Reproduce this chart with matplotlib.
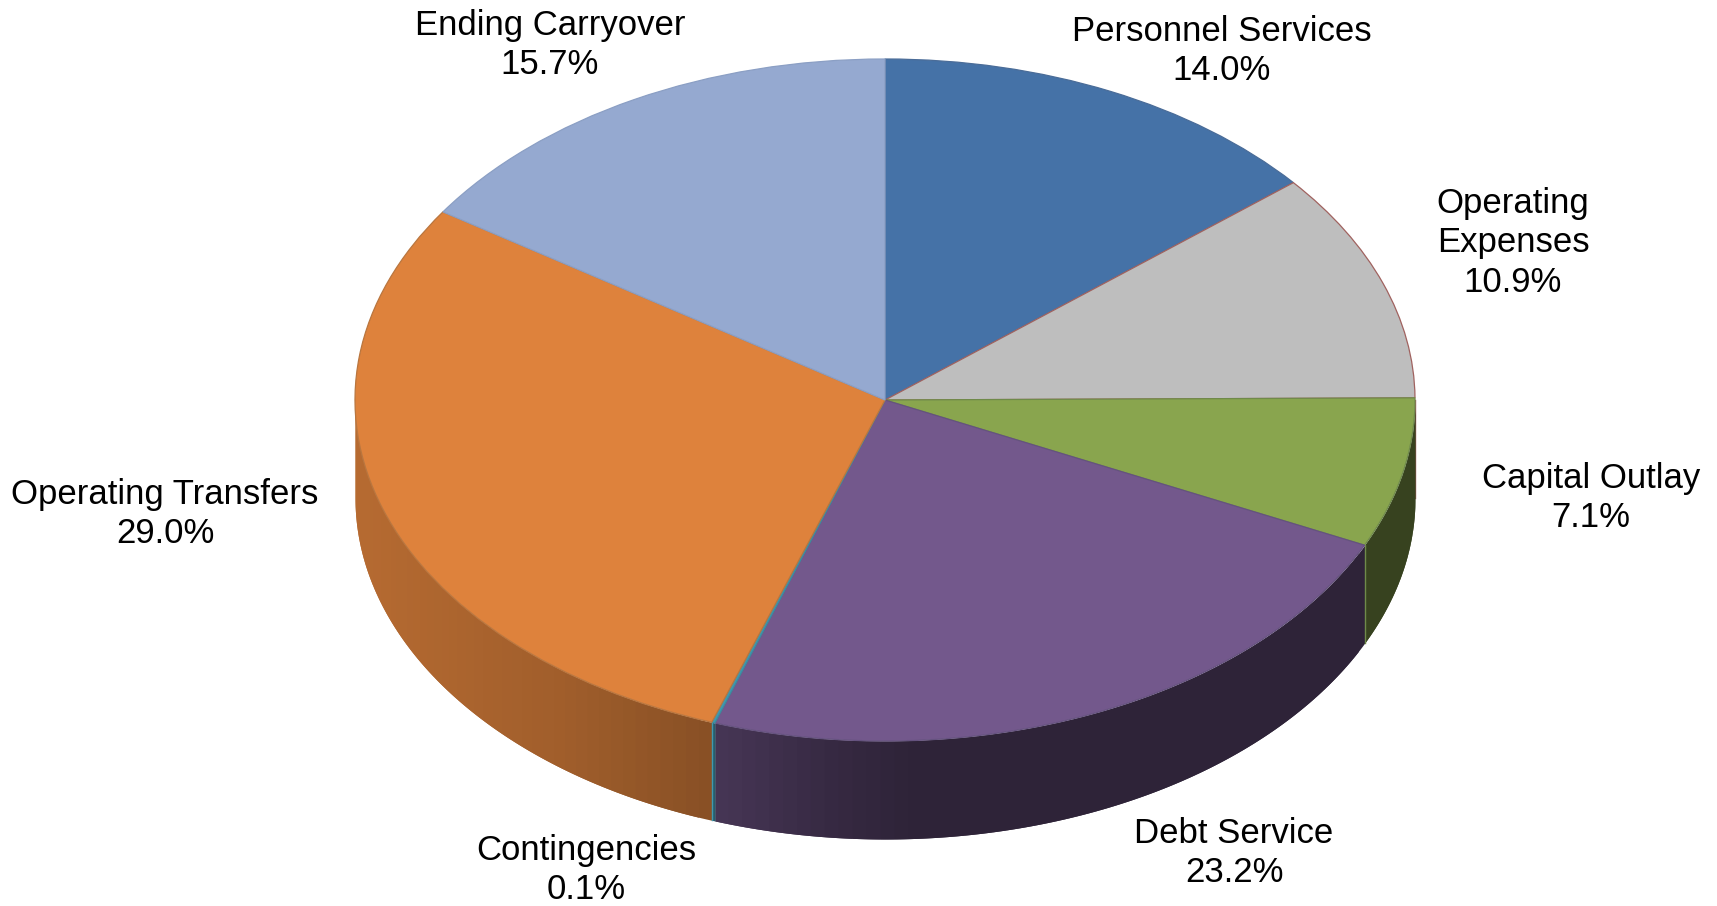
import numpy as np
import matplotlib
matplotlib.use('Agg')
import matplotlib.pyplot as plt

plt.rcParams['font.family'] = ['Liberation Sans', 'DejaVu Sans']

# slices, clockwise from 12 o'clock
categories = ['Personnel Services', 'Operating\nExpenses', 'Capital Outlay', 'Debt Service',
              'Contingencies', 'Operating Transfers', 'Ending Carryover']
values = [14.0, 10.9, 7.1, 23.2, 0.1, 29.0, 15.7]

colors = ['#4572A7', '#BEBEBE', '#89A54E', '#73588C', '#4198AF', '#DE823C', '#95A9D0']
edge_colors = ['#4A6C98', '#A0625F', '#6F8A4A', '#65527F', '#3C8CA0', '#B9763F', '#8B9FC4']

W, H = 1717, 906
cx, cy, rx, ry = 885, 400, 530, 341
depth = 98 / ry

# pixel centre of every label block
label_pos = [(1222, 51), (1513, 243), (1591, 498), (1234, 853),
             (586, 870), (165, 514), (550, 45)]

# how dark the side wall gets, left to right
shade_x = [-1.0, -0.6, -0.3, -0.1, 0.05, 1.0]
shade_f = [0.82, 0.72, 0.60, 0.47, 0.40, 0.40]

fig = plt.figure(figsize=(W / 100, H / 100), dpi=100)
ax = fig.add_axes([0, 0, 1, 1])

wedges, _ = ax.pie(values, colors=colors, startangle=90, counterclock=False, radius=1,
                   wedgeprops={'linewidth': 0.9, 'zorder': 5})
for w, ec in zip(wedges, edge_colors):
    w.set_edgecolor(ec)

# stretch the round pie to the tilted ellipse
ax.set_aspect('auto')
ax.set_xlim(-cx / rx, (W - cx) / rx)
ax.set_ylim((cy - H) / ry, cy / ry)
ax.axis('off')

# side wall, only the front half can be seen
# every strip runs a bit under the next one so no seams show
edges = np.concatenate([[0], np.cumsum(values)]) / np.sum(values) * 360
for i in range(len(values)):
    a0 = max(edges[i], 90)
    a1 = min(edges[i + 1], 270)
    if a1 <= a0:
        continue
    n = max(int((a1 - a0) / 1.5), 1)
    steps = np.linspace(a0, a1, n + 1)
    base = np.array(matplotlib.colors.to_rgb(colors[i]))
    for k, (s0, s1) in enumerate(zip(steps[:-1], steps[1:])):
        end = s1 if k == n - 1 else steps[k + 2] if k + 2 <= n else s1
        a = np.radians(np.linspace(s0, end, 6))
        x = np.sin(a)
        y = np.cos(a)
        mid = np.sin(np.radians((s0 + s1) / 2))
        c = base * np.interp(mid, shade_x, shade_f)
        ax.fill_between(x, y, y - depth, color=tuple(c), linewidth=0, zorder=2)

# thin seams on the wall
for i in [2, 4]:
    a = np.radians(edges[i + 1])
    seam = '#4198AF' if i == 4 else '#6F8A4A'
    ax.plot([np.sin(a)] * 2, [np.cos(a), np.cos(a) - depth], color=seam, lw=1.0, zorder=3)
ax.plot([1, 1], [0, -depth], color=edge_colors[1], lw=1.0, zorder=1)

for name, val, (px, py) in zip(categories, values, label_pos):
    fig.text(px / W, 1 - py / H, f'{name}\n{val:.1f}%', ha='center', va='center',
             fontsize=25.0, color='black', linespacing=1.26)

fig.savefig('out.png', dpi=100)
